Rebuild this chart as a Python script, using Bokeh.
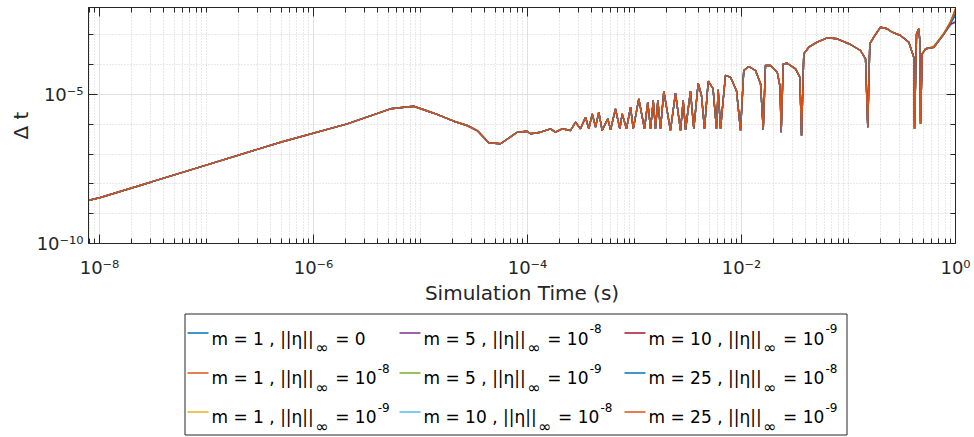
import math
from bokeh.plotting import figure
from bokeh.models import Range1d, FixedTicker, LogAxis, CustomJSTickFormatter, ColumnDataSource
from bokeh.layouts import column
from bokeh.embed import file_html
from bokeh.resources import INLINE
from bokeh.core.properties import value

# ---------------- data (stored as log10 values) ----------------
log10_time = [-8.106, -7.991, -7.523, -7.056, -6.308, -5.685, -5.280, -5.063, -4.876, -4.689, -4.564, -4.470, -4.362, -4.252, -4.096, -4.003, -3.972,
              -3.879, -3.785, -3.738, -3.676, -3.598, -3.551, -3.505, -3.458, -3.427, -3.395, -3.364, -3.334, -3.302, -3.250, -3.224, -3.178, -3.137, -3.115, -3.075, -3.037, -3.012,
              -2.960, -2.907, -2.876, -2.850, -2.825, -2.804, -2.782, -2.757, -2.726, -2.664, -2.617, -2.570, -2.545, -2.523, -2.477, -2.446, -2.405, -2.374, -2.346, -2.311, -2.266, -2.234, -2.218, -2.196, -2.150, -2.103, -2.047, -2.009,
              -1.979, -1.932, -1.869, -1.822, -1.797, -1.776, -1.729, -1.666, -1.640, -1.629, -1.610, -1.573, -1.495, -1.455, -1.439, -1.418, -1.371, -1.293, -1.199, -1.106,
              -0.981, -0.888, -0.841, -0.820, -0.801, -0.764, -0.701, -0.638, -0.592, -0.514, -0.436, -0.390, -0.383, -0.364, -0.343, -0.334, -0.327, -0.311, -0.280, -0.203,
              -0.109, -0.047, 0.0]
log10_dt = [-8.557, -8.456, -7.943, -7.426, -6.601, -5.983, -5.480, -5.393, -5.628, -5.896, -6.040, -6.208, -6.621, -6.654, -6.265, -6.232, -6.319,
            -6.265, -6.151, -6.265, -6.151, -6.208, -5.930, -6.151, -5.762, -6.151, -5.648, -6.097, -5.594, -6.208, -5.815, -6.185, -5.480, -6.151, -5.648, -6.151, -5.426, -6.151,
            -5.144, -6.151, -5.258, -6.151, -5.201, -6.151, -5.201, -6.151, -4.889, -6.208, -4.956, -6.208, -5.201, -6.185, -4.889, -6.151, -4.621, -5.034, -6.151, -4.554, -4.799, -6.151, -4.842, -6.151, -4.362, -4.419, -4.866, -6.208,
            -4.195, -4.060, -4.195, -4.641, -6.185, -4.027, -4.027, -4.252, -4.732, -6.265, -3.970, -3.950, -4.138, -4.419, -6.376, -3.634, -3.413, -3.245, -3.097, -3.131,
            -3.322, -3.523, -3.802, -6.097, -3.301, -3.077, -2.742, -2.795, -2.909, -3.020, -3.245, -3.748, -6.151, -2.963, -2.795, -3.188, -5.983, -3.634, -3.466, -3.413,
            -2.963, -2.574, -2.124]

# the runs differ only in their last few steps (log10 of dt for the last 4 points)
tail_log10_dt = [
    [-3.413, -2.980, -2.620, -2.300],   # m = 1,  eta = 0
    [-3.413, -2.963, -2.574, -2.124],   # m = 1,  eta = 1e-8
    [-3.370, -2.930, -2.550, -2.150],   # m = 1,  eta = 1e-9
    [-3.413, -2.963, -2.590, -2.200],   # m = 5,  eta = 1e-8
    [-3.413, -2.963, -2.580, -2.160],   # m = 5,  eta = 1e-9
    [-3.430, -2.990, -2.680, -2.520],   # m = 10, eta = 1e-8
    [-3.420, -2.975, -2.640, -2.580],   # m = 10, eta = 1e-9
    [-3.413, -2.970, -2.600, -2.350],   # m = 25, eta = 1e-8
    [-3.413, -2.963, -2.574, -2.124],   # m = 25, eta = 1e-9
]

series_m = ["1", "1", "1", "5", "5", "10", "10", "25", "25"]
series_eta_exp = [None, "-8", "-9", "-8", "-9", "-8", "-9", "-8", "-9"]
series_colors = ["#0072BD", "#D95319", "#EDB120", "#7E2F8E", "#77AC30",
                 "#4DBEEE", "#A2142F", "#0072BD", "#D95319"]

x_major_ticks = [1e-8, 1e-6, 1e-4, 1e-2, 1.0]
y_major_ticks = [1e-10, 1e-5]
x_label = "Simulation Time (s)"
y_label = "\u0394 t"

# ---------------- tick locations ----------------
x_minor_ticks = [k * 10.0 ** e for e in range(-9, 0) for k in range(1, 10)
                 if (k > 1 or e % 2 != 0)]
y_minor_ticks = [10.0 ** e for e in range(-9, -1) if e != -5]

FONT = "DejaVu Sans"
AX = "#262626"
LG_TOP = 310
FL, FR = 88, 955          # frame left / right (page pixels)

p = figure(width=974, height=LG_TOP, x_axis_type="log", y_axis_type="log",
           x_range=Range1d(10 ** -8.103, 1.0), y_range=Range1d(1e-10, 10 ** -2.08),
           output_backend="svg", toolbar_location=None,
           min_border_left=FL, min_border_right=974 - FR, min_border_top=7,
           min_border_bottom=LG_TOP - 243)
p.outline_line_color = AX
p.outline_line_alpha = 1.0
p.background_fill_color = "white"
p.border_fill_color = "white"

sup_code = r"""
const s = {"-": "\u207B", "0": "\u2070", "1": "\u00B9", "2": "\u00B2", "3": "\u00B3",
           "4": "\u2074", "5": "\u2075", "6": "\u2076", "7": "\u2077", "8": "\u2078", "9": "\u2079"};
const e = Math.round(Math.log10(tick));
let out = "10";
for (const ch of String(e)) out += s[ch];
return out;
"""

xt = FixedTicker(ticks=x_major_ticks, minor_ticks=x_minor_ticks)
yt = FixedTicker(ticks=y_major_ticks, minor_ticks=y_minor_ticks)


def style_axis(ax):
    ax.axis_line_color = AX
    ax.major_tick_line_color = AX
    ax.minor_tick_line_color = AX
    ax.major_tick_in = 9
    ax.major_tick_out = 0
    ax.minor_tick_in = 5
    ax.minor_tick_out = 0
    ax.major_label_text_font = FONT
    ax.major_label_text_font_size = "18px"
    ax.major_label_text_color = AX
    ax.axis_label_text_font = FONT
    ax.axis_label_text_font_size = "20px"
    ax.axis_label_text_font_style = "normal"
    ax.axis_label_text_color = AX


xa = p.xaxis[0]
xa.ticker = xt
xa.formatter = CustomJSTickFormatter(code=sup_code)
xa.axis_label = x_label
style_axis(xa)
xa.major_label_standoff = 13
xa.axis_label_standoff = 0

ya = p.yaxis[0]
ya.ticker = yt
ya.formatter = CustomJSTickFormatter(code=sup_code)
ya.axis_label = y_label
style_axis(ya)
ya.major_label_standoff = 5
ya.axis_label_standoff = 1

for loc, tk in (("above", xt), ("right", yt)):
    ax = LogAxis(ticker=tk, formatter=CustomJSTickFormatter(code="return '';"))
    style_axis(ax)
    ax.major_label_text_font_size = "0px"
    ax.major_label_standoff = 0
    p.add_layout(ax, loc)

for g, tk in ((p.xgrid[0], xt), (p.ygrid[0], yt)):
    g.ticker = tk
    g.grid_line_color = "#E0E0E0"
    g.grid_line_width = 1
    g.minor_grid_line_color = "#CFCFCF"
    g.minor_grid_line_dash = "1 2"
    g.minor_grid_line_alpha = 0.9

t_vals = [10.0 ** v for v in log10_time]
for i in range(len(series_m)):
    dt_series = log10_dt[:-4] + tail_log10_dt[i]
    src = ColumnDataSource(dict(t=t_vals, dt=[10.0 ** v for v in dt_series]))
    p.line("t", "dt", source=src, line_color=series_colors[i], line_width=1.4)

# ---------------- legend (own panel; its frame lines up with the plot frame) ----------------
H = 437 - LG_TOP
lg = figure(width=974, height=H, x_range=Range1d(FL, FR), y_range=Range1d(437, LG_TOP),
            x_axis_location=None, y_axis_location=None, output_backend="svg",
            toolbar_location=None, min_border_left=FL, min_border_right=974 - FR,
            min_border_top=0, min_border_bottom=0)
lg.outline_line_color = None
lg.grid.visible = False

lg.quad(left=[184.5], right=[846.5], top=[313.5], bottom=[434.5],
        fill_color="white", line_color=AX, line_width=1)

col_x0 = [211, 423, 648]
row_base = [338, 377.5, 416.5]

seg = dict(x0=[], x1=[], y=[], c=[])
main = dict(x=[], y=[], text=[])
infs = dict(x=[], y=[], text=[])
rest = dict(x=[], y=[], text=[])
sups = dict(x=[], y=[], text=[])
SP = 5.4   # width of one space at 17px
for i, m in enumerate(series_m):
    c, r = i // 3, i % 3
    x0 = col_x0[c]
    yb = row_base[r]
    seg["x0"].append(x0 - 24); seg["x1"].append(x0 - 3)
    seg["y"].append(round(yb - 5.5) + 0.5); seg["c"].append(series_colors[i])
    wA = 102.3 + 10.8 * (len(m) - 1)
    main["x"].append(x0); main["y"].append(yb); main["text"].append(f"m = {m} , ||\u03b7||")
    infs["x"].append(x0 + wA + 1.5); infs["y"].append(yb + 9); infs["text"].append("\u221e")
    xr = x0 + wA + 16 + SP
    if series_eta_exp[i] is None:
        rest["x"].append(xr); rest["y"].append(yb); rest["text"].append("= 0")
    else:
        rest["x"].append(xr); rest["y"].append(yb); rest["text"].append("= 10")
        sups["x"].append(xr + 42.5); sups["y"].append(yb - 10); sups["text"].append(series_eta_exp[i])

lg.segment(x0="x0", y0="y", x1="x1", y1="y", line_color="c", line_width=1.3,
           source=ColumnDataSource(seg))
for d, size in ((main, "17px"), (infs, "16px"), (rest, "17px"), (sups, "12px")):
    lg.text(x="x", y="y", text="text", source=ColumnDataSource(d),
            text_font=value(FONT), text_font_size=value(size), text_color="#000000",
            text_baseline="alphabetic", text_align="left")

layout = column(p, lg, spacing=0)
with open("out.html", "w", encoding="utf-8") as f:
    f.write(file_html(layout, INLINE))
